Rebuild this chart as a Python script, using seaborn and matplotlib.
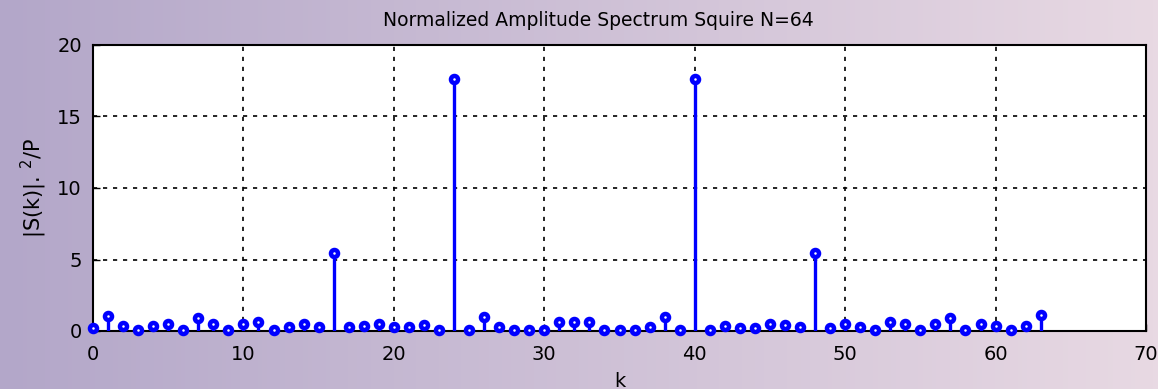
import matplotlib
matplotlib.use("Agg")
import matplotlib.pyplot as plt
import seaborn as sns
import numpy as np
import pandas as pd

# データ
k = np.arange(64)
power = [0.23, 1.05, 0.35, 0.05, 0.35, 0.5, 0.05, 0.9, 0.5, 0.05,
         0.5, 0.65, 0.05, 0.25, 0.5, 0.25, 5.45, 0.25, 0.35, 0.5,
         0.25, 0.25, 0.4, 0.05, 17.6, 0.05, 1.0, 0.25, 0.05, 0.05,
         0.05, 0.65, 0.65, 0.65, 0.05, 0.05, 0.05, 0.25, 1.0, 0.05,
         17.6, 0.05, 0.35, 0.2, 0.2, 0.5, 0.4, 0.25, 5.45, 0.2,
         0.5, 0.3, 0.05, 0.65, 0.5, 0.05, 0.5, 0.9, 0.05, 0.5,
         0.35, 0.05, 0.35, 1.1]
x_ticks = [0, 10, 20, 30, 40, 50, 60, 70]
y_ticks = [0, 5, 10, 15, 20]

df = pd.DataFrame({'k': k, 'p': power})

sns.set_style("white")
plt.rcParams['font.family'] = ['DejaVu Sans']
plt.rcParams['text.color'] = 'black'
plt.rcParams['axes.labelcolor'] = 'black'

fig = plt.figure(figsize=(11.58, 3.89), dpi=100)

# 背景グラデーション
bg = fig.add_axes([0, 0, 1, 1], zorder=-10)
c_left = np.array([179, 167, 201]) / 255
c_right = np.array([232, 217, 227]) / 255
t = np.linspace(0, 1, 256)[None, :, None]
grad = c_left * (1 - t) + c_right * t
bg.imshow(grad, aspect='auto', extent=[0, 1, 0, 1])
bg.axis('off')

ax = fig.add_axes([93 / 1158, 1 - 331 / 389, (1146 - 93) / 1158, (331 - 45) / 389])
ax.set_facecolor('white')

# ステム
ax.vlines(df['k'], 0, df['p'], color='#0000ff', linewidth=2.4, zorder=3)
sns.scatterplot(data=df, x='k', y='p', ax=ax, marker='o', s=26,
                facecolor='white', edgecolor='#0000ff', linewidth=3.2,
                zorder=4, legend=False, clip_on=False)

ax.set_xlim(0, 70)
ax.set_ylim(0, 20)
ax.set_xticks(x_ticks)
ax.set_yticks(y_ticks)
ax.grid(True, color='black', linestyle=(0, (2.5, 3.5)), linewidth=1.2)
ax.tick_params(axis='both', direction='in', length=5, width=1, labelsize=14,
               colors='black', bottom=True, left=True)
ax.tick_params(axis='y', pad=8)
ax.tick_params(axis='x', pad=10)
for s in ax.spines.values():
    s.set_color('black')
    s.set_linewidth(1.5)

ax.set_title('Normalized Amplitude Spectrum Squire N=64', fontsize=13.5,
             pad=14, x=0.48)
ax.set_xlabel('k', fontsize=14, labelpad=6)
ax.set_ylabel(r'|S(k)|. $^{2}$/P', fontsize=15, labelpad=6)

fig.savefig('out.png', dpi=100)
plt.close(fig)
